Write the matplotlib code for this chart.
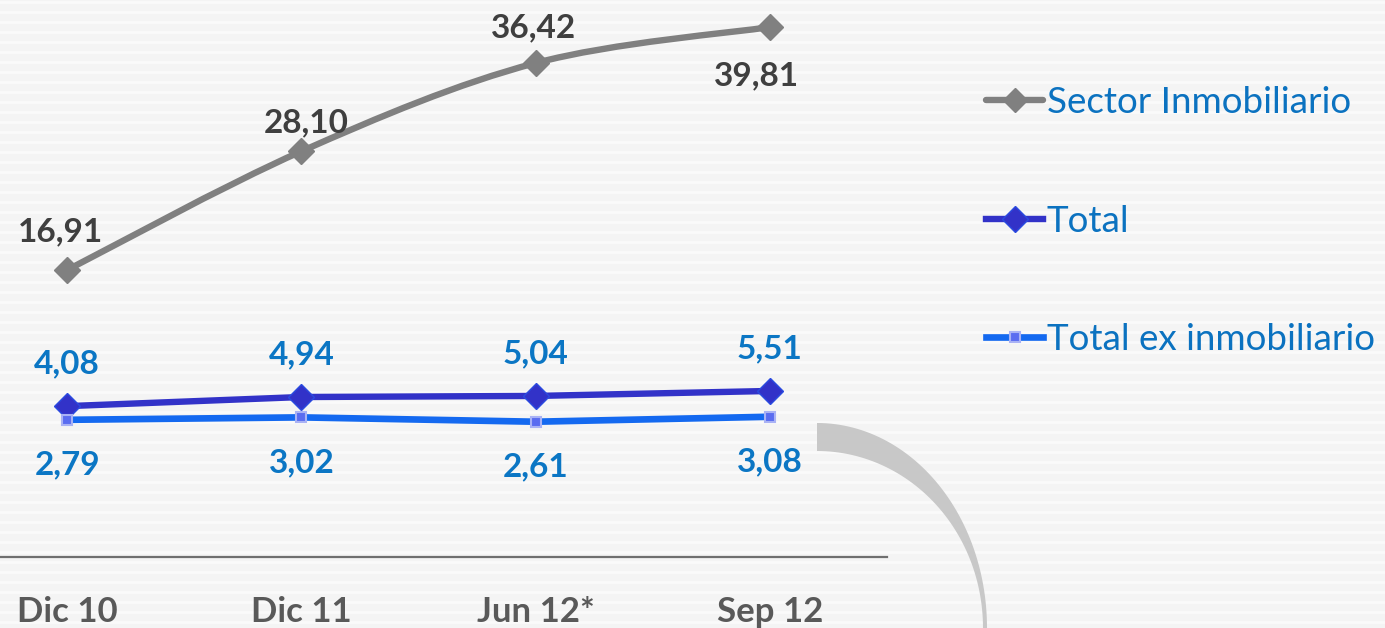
import matplotlib.pyplot as plt
import numpy as np
from matplotlib.path import Path
from matplotlib.patches import PathPatch, Polygon

#data
periods = ["Dic 10", "Dic 11", "Jun 12*", "Sep 12"]
sector = [16.91, 28.10, 36.42, 39.81]
total = [4.08, 4.94, 5.04, 5.51]
total_ex = [2.79, 3.02, 2.61, 3.08]
names = ["Sector Inmobiliario", "Total", "Total ex inmobiliario"]

plt.rcParams['font.family'] = ['Lato', 'DejaVu Sans']

W, H = 1385, 628
fig = plt.figure(figsize=(W/100, H/100), dpi=100)
fig.patch.set_facecolor('#f4f4f4')

#faint horizontal stripes of the slide background
bg = fig.add_axes([0, 0, 1, 1], zorder=-10)
bg.set_xlim(0, W); bg.set_ylim(H, 0); bg.axis('off')
for yy in np.arange(2, H, 10):
    bg.axhline(yy, color='white', lw=2, alpha=0.6, zorder=1)

#decorative grey arc bottom right
t = np.linspace(0, np.pi/2, 60)
outer = np.c_[817 + 170*np.sin(t), 628 - 205*np.cos(t)]
inner = np.c_[817 + 166*np.sin(t), 628 - 177*np.cos(t)][::-1]
bg.add_patch(Polygon(np.vstack([outer, inner]), closed=True, fc='#c8c8c8', ec='none', zorder=2))

#axes: category axis spans -50..887 px, bottom line at y=557
ax = fig.add_axes([-50/W, (H-557)/H, 937/W, 557/H])
ax.set_facecolor('none')
x = np.arange(len(periods))
ax.set_xlim(-0.5, 3.5)
ax.set_ylim(-10.14, 42.36)

gray = '#808080'
navy = '#3232c8'
blue = '#1469f0'
lblblue = '#0b76c4'

#smoothed grey line (Excel-style Catmull-Rom)
px = x.astype(float); py = np.array(sector)
verts = [(px[0], py[0])]; codes = [Path.MOVETO]
for i in range(len(px)-1):
    p0 = max(i-1, 0); p3 = min(i+2, len(px)-1)
    c1 = (px[i] + (px[i+1]-px[p0])/6, py[i] + (py[i+1]-py[p0])/6)
    c2 = (px[i+1] - (px[p3]-px[i])/6, py[i+1] - (py[p3]-py[i])/6)
    verts += [c1, c2, (px[i+1], py[i+1])]
    codes += [Path.CURVE4]*3
ax.add_patch(PathPatch(Path(verts, codes), fc='none', ec=gray, lw=4.6, capstyle='round', zorder=3))
l1, = ax.plot(x, sector, ls='none', marker='D', ms=13, color=gray, zorder=4)
h1, = ax.plot([], [], color=gray, lw=4.6, marker='D', ms=12, solid_capstyle='round')

l2, = ax.plot(x, total, color=navy, lw=4.6, marker='D', ms=13, mfc=navy, mec='#2a4be0', zorder=4)
l3, = ax.plot(x, total_ex, color=blue, lw=4.8, marker='s', ms=7, mfc='#5a6cf0', mec='#a9b2f5', mew=1.5, zorder=4)

#data labels
off_sector = [(-7, 38), (5, 28), (-2, 35), (-13, -49)]
for xi, v, o in zip(x, sector, off_sector):
    ax.annotate(f"{v:.2f}".replace('.', ','), (xi, v), xytext=o, textcoords='offset pixels',
                ha='center', va='center', fontsize=24, fontweight='bold', color='#3f3f3f')
for xi, v in zip(x, total):
    ax.annotate(f"{v:.2f}".replace('.', ','), (xi, v), xytext=(0, 42), textcoords='offset pixels',
                ha='center', va='center', fontsize=24, fontweight='bold', color=lblblue)
for xi, v in zip(x, total_ex):
    ax.annotate(f"{v:.2f}".replace('.', ','), (xi, v), xytext=(0, -45), textcoords='offset pixels',
                ha='center', va='center', fontsize=24, fontweight='bold', color=lblblue)

ax.set_xticks(x, periods, fontsize=25, fontweight='bold', color='#595959')
ax.tick_params(axis='x', length=0, pad=28)
ax.set_yticks([])
for s in ['top', 'left', 'right']:
    ax.spines[s].set_visible(False)
ax.spines['bottom'].set_color('#6f6f6f')
ax.spines['bottom'].set_linewidth(1.6)

fig.legend([h1, l2, l3], names, loc='center left', bbox_to_anchor=(986/W, 1-221/H),
           frameon=False, fontsize=26.5, labelcolor='#0b72c0', handlelength=1.55,
           handletextpad=0.1, labelspacing=2.32, borderpad=0, borderaxespad=0, numpoints=1)

fig.savefig('out.png', dpi=100, facecolor=fig.get_facecolor())
